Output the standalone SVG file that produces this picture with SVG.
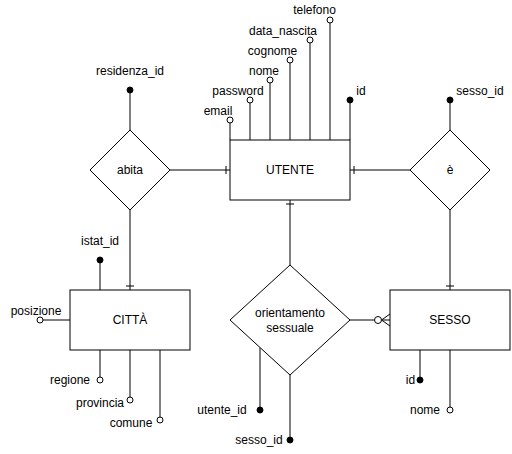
<svg xmlns="http://www.w3.org/2000/svg" width="512" height="454" viewBox="0 0 512 454">
<style>
.s{fill:#fff;stroke:#000;stroke-width:1}
.l{fill:none;stroke:#000;stroke-width:1}
.o{fill:#fff;stroke:#000;stroke-width:1}
.f{fill:#000;stroke:#000;stroke-width:1}
text{font-family:"Liberation Sans",Arial,Helvetica,sans-serif;font-size:12px;fill:#000;text-anchor:middle}
</style>
<rect width="512" height="454" fill="#fff"/>
<g id="connectors">
<!-- abita - UTENTE -->
<path class="l" d="M170,170H230M226,166V174"/>
<!-- UTENTE - è -->
<path class="l" d="M350,170H410M354,166V174"/>
<!-- UTENTE - orientamento -->
<path class="l" d="M290,200V265M286,204H294"/>
<!-- abita - CITTA -->
<path class="l" d="M130,210V290M126,286H134"/>
<!-- è - SESSO -->
<path class="l" d="M450,210V290M446,286H454"/>
<!-- orientamento - SESSO -->
<path class="l" d="M350,320H374.5M381.5,320L390,314M381.5,320L390,326M381.5,320H390"/>
<circle class="o" cx="378" cy="320" r="3.5"/>
</g>
<g id="UTENTE">
<path class="l" d="M230,140V120M250,140V100M270,140V80M290,140V60M310,140V40M330,140V20M350,140V100"/>
<circle class="o" cx="230" cy="120" r="3"/>
<circle class="o" cx="250" cy="100" r="3"/>
<circle class="o" cx="270" cy="80" r="3"/>
<circle class="o" cx="290" cy="60" r="3"/>
<circle class="o" cx="310" cy="40" r="3"/>
<circle class="o" cx="330" cy="20" r="3"/>
<circle class="f" cx="350" cy="100" r="3"/>
<text x="314.5" y="14">telefono</text>
<text x="283" y="35">data_nascita</text>
<text x="272.5" y="55">cognome</text>
<text x="264" y="75">nome</text>
<text x="238" y="95">password</text>
<text x="218" y="115">email</text>
<text x="361" y="95">id</text>
<rect class="s" x="230" y="140" width="120" height="60"/>
<text x="290" y="174">UTENTE</text>
</g>
<g id="abita">
<path class="l" d="M130,130V90"/>
<circle class="f" cx="130" cy="90" r="3"/>
<text x="130" y="75">residenza_id</text>
<path class="s" d="M130,130L170,170L130,210L90,170Z"/>
<text x="130" y="174">abita</text>
</g>
<g id="e">
<path class="l" d="M450,130V100"/>
<circle class="f" cx="450" cy="100" r="3"/>
<text x="480" y="95">sesso_id</text>
<path class="s" d="M450,130L490,170L450,210L410,170Z"/>
<text x="450" y="174">è</text>
</g>
<g id="CITTA">
<path class="l" d="M100,290V260M70,320H40M100,350V380M130,350V400M160,350V420"/>
<circle class="f" cx="100" cy="260" r="3"/>
<circle class="o" cx="40" cy="320" r="3"/>
<circle class="o" cx="100" cy="380" r="3"/>
<circle class="o" cx="130" cy="400" r="3"/>
<circle class="o" cx="160" cy="420" r="3"/>
<text x="100" y="245">istat_id</text>
<text x="36" y="315">posizione</text>
<text x="70" y="384">regione</text>
<text x="100" y="407">provincia</text>
<text x="131" y="427">comune</text>
<rect class="s" x="70" y="290" width="120" height="60"/>
<text x="130" y="324">CITTÀ</text>
</g>
<g id="orientamento">
<path class="l" d="M260,347.5V410M290,375V440"/>
<circle class="f" cx="260" cy="410" r="3"/>
<circle class="f" cx="290" cy="440" r="3"/>
<text x="222" y="414">utente_id</text>
<text x="259" y="444">sesso_id</text>
<path class="s" d="M290,265L350,320L290,375L230,320Z"/>
<text x="290" y="317">orientamento</text>
<text x="290" y="332">sessuale</text>
</g>
<g id="SESSO">
<path class="l" d="M420,350V380M450,350V410"/>
<circle class="f" cx="420" cy="380" r="3"/>
<circle class="o" cx="450" cy="410" r="3"/>
<text x="410.5" y="384">id</text>
<text x="425" y="414">nome</text>
<rect class="s" x="390" y="290" width="120" height="60"/>
<text x="450" y="324">SESSO</text>
</g>
</svg>
